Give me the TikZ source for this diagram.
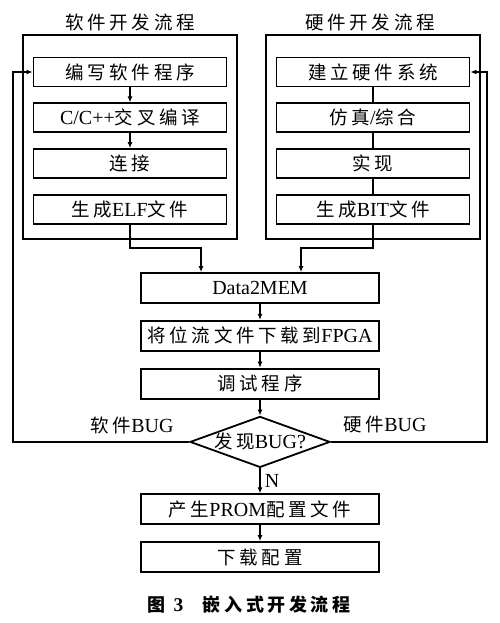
\documentclass[tikz,border=0pt]{standalone}
\usepackage{fontspec}
\setmainfont[Scale=1.08]{Liberation Serif}
\newfontfamily\cjk[LetterSpace=20]{Noto Sans CJK SC}
\usetikzlibrary{positioning,shapes.geometric,arrows.meta}

\begin{document}
\begin{tikzpicture}[x=1pt, y=-1pt,
procbox/.style={rectangle, draw, line width=1.8pt, minimum width=193pt, minimum height=29pt, inner sep=0pt, font=\fontsize{18.5}{20}\selectfont},
mainbox/.style={procbox, minimum width=238pt, minimum height=30pt},
groupbox/.style={rectangle, draw, line width=1.8pt, minimum width=214pt, minimum height=204pt},
decision/.style={diamond, draw, line width=1.8pt, aspect=2.75, minimum width=140pt, minimum height=51pt, inner sep=0pt, font=\fontsize{18.5}{20}\selectfont},
tagtext/.style={font=\fontsize{18.5}{20}\selectfont, inner sep=1pt},
arr/.style={-{Latex[length=6pt,width=5pt]}, line width=1.5pt},
link/.style={line width=1.5pt},
node distance=15pt,
]
\useasboundingbox (0,0) rectangle (500,623);

%Groups
\node[tagtext] (swtitle) at (130,22) {\cjk 软件开发流程};
\node[tagtext] (hwtitle) at (370,22) {\cjk 硬件开发流程};
\node[groupbox] (swgroup) at (130,137) {};
\node[groupbox] (hwgroup) at (373,137) {};

%Software flow
\node[procbox] (sw1) at (130,72) {\cjk 编写软件程序};
\node[procbox] (sw2) [below=of sw1] {C/C++{\cjk 交叉编译}};
\node[procbox] (sw3) [below=of sw2] {\cjk 连接};
\node[procbox] (sw4) [below=of sw3] {{\cjk 生成}ELF{\cjk 文件}};

%Hardware flow
\node[procbox] (hw1) at (373,72) {\cjk 建立硬件系统};
\node[procbox] (hw2) [below=of hw1] {{\cjk 仿真}/{\cjk 综合}};
\node[procbox] (hw3) [below=of hw2] {\cjk 实现};
\node[procbox] (hw4) [below=of hw3] {{\cjk 生成}BIT{\cjk 文件}};

%Common flow
\node[mainbox] (data) at (260,288) {Data2MEM};
\node[mainbox] (load) [below=16pt of data] {{\cjk 将位流文件下载到}FPGA};
\node[mainbox] (debug) [below=16pt of load] {\cjk 调试程序};
\node[decision] (find) [below=16pt of debug] {{\cjk 发现}BUG?};
\node[mainbox] (prom) [below=25pt of find] {{\cjk 产生}PROM{\cjk 配置文件}};
\node[mainbox] (dl) [below=16pt of prom] {\cjk 下载配置};

\node[tagtext] (swbug) at (132,425) {{\cjk 软件}BUG};
\node[tagtext] (hwbug) at (385,425) {{\cjk 硬件}BUG};

\node[font=\fontsize{18}{20}\selectfont\bfseries] (caption) at (249,605) {{\cjk 图}\ \,3\quad{\cjk 嵌入式开发流程}};

\coordinate (swbend) at (201,248);
\coordinate (hwbend) at (301,248);
\coordinate (swback) at (13,250);
\coordinate (hwback) at (487,250);

%Lines
\draw[arr] (sw1) -- (sw2);
\draw[arr] (sw2) -- (sw3);
\draw[link] (hw1) -- (hw2);
\draw[link] (hw2) -- (hw3);
\draw[link] (hw3) -- (hw4);

\draw[arr] (sw4.south) |- (swbend) -- (swbend |- data.north);
\draw[arr] (hw4.south) |- (hwbend) -- (hwbend |- data.north);

\draw[arr] (data) -- (load);
\draw[arr] (load) -- (debug);
\draw[arr] (debug) -- (find);
\draw[arr] (find) -- node[tagtext, right=3pt] (nmark) {N} (prom);
\draw[arr] (prom) -- (dl);

\draw[arr] (find.west) -| (swback) |- (sw1.west);
\draw[arr] (find.east) -| (hwback) |- (hw1.east);
\end{tikzpicture}
\end{document}
